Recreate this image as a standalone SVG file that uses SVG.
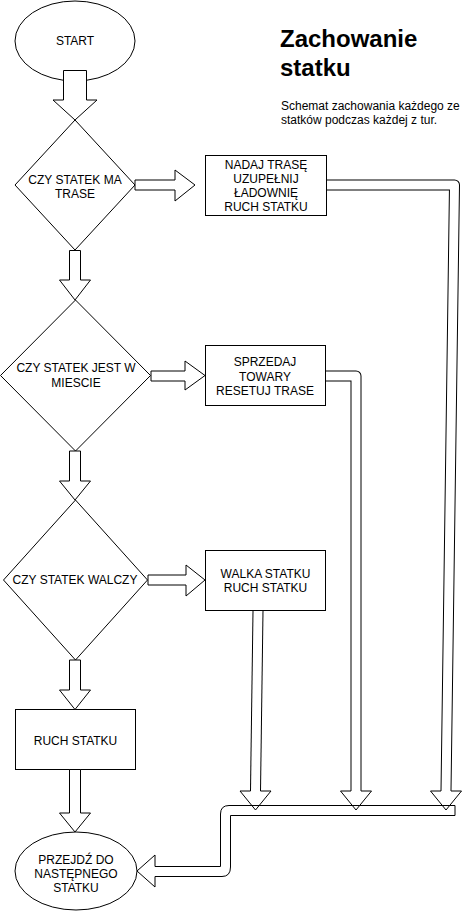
<svg xmlns="http://www.w3.org/2000/svg" width="466" height="911" viewBox="0 0 466 911">
<style>
.n{fill:#fff;stroke:#000;stroke-width:1}
.t{font-family:"Liberation Sans",Arial,sans-serif;font-size:12px;fill:#000;text-anchor:middle}
.fa{fill:#fff;stroke:#000;stroke-width:1;stroke-linejoin:miter}
.so{fill:none;stroke:#000;stroke-width:11;stroke-linejoin:round;stroke-linecap:butt}
.si{fill:none;stroke:#fff;stroke-width:9;stroke-linejoin:round;stroke-linecap:butt}
.hf{fill:#fff;stroke:none}
.hl{fill:none;stroke:#000;stroke-width:1}
.ln{fill:none;stroke:#000;stroke-width:1}
</style>
<rect width="466" height="911" fill="#fff"/>
<g id="title">
<text x="280" y="47" style="font-family:'Liberation Sans',Arial,sans-serif;font-size:24px;font-weight:bold;fill:#000">Zachowanie</text>
<text x="280" y="76" style="font-family:'Liberation Sans',Arial,sans-serif;font-size:24px;font-weight:bold;fill:#000">statku</text>
<text x="281" y="110" style="font-family:'Liberation Sans',Arial,sans-serif;font-size:12px;fill:#000">Schemat zachowania każdego ze</text>
<text x="281" y="124" style="font-family:'Liberation Sans',Arial,sans-serif;font-size:12px;fill:#000">statków podczas każdej z tur.</text>
</g>
<g id="start">
<ellipse class="n" cx="75" cy="41" rx="60" ry="40"/>
<text class="t" x="75" y="45">START</text>
</g>
<g id="d1">
<polygon class="n" points="75,120 135,185 75,250 15,185"/>
<text class="t" x="75" y="183.5">CZY STATEK MA</text>
<text class="t" x="75" y="197.5">TRASE</text>
</g>
<g id="box1">
<rect class="n" x="205.5" y="155.5" width="121" height="60"/>
<text class="t" x="266" y="169">NADAJ TRASĘ</text>
<text class="t" x="266" y="183">UZUPEŁNIJ</text>
<text class="t" x="266" y="197">ŁADOWNIĘ</text>
<text class="t" x="266" y="211">RUCH STATKU</text>
</g>
<g id="d2">
<polygon class="n" points="75.5,300 150.5,375.5 75.5,451 0.5,375.5"/>
<text class="t" x="76" y="372">CZY STATEK JEST W</text>
<text class="t" x="76" y="386.5">MIESCIE</text>
</g>
<g id="box2">
<rect class="n" x="205.5" y="345.5" width="120" height="60"/>
<text class="t" x="265" y="366">SPRZEDAJ</text>
<text class="t" x="265" y="380.5">TOWARY</text>
<text class="t" x="265" y="395">RESETUJ TRASE</text>
</g>
<g id="d3">
<polygon class="n" points="75.5,500 147.5,580 75.5,660 3.5,580"/>
<text class="t" x="75" y="584">CZY STATEK WALCZY</text>
</g>
<g id="box3">
<rect class="n" x="205.5" y="550.5" width="120" height="60"/>
<text class="t" x="265.5" y="577.5">WALKA STATKU</text>
<text class="t" x="265.5" y="591.5">RUCH STATKU</text>
</g>
<g id="ruch">
<rect class="n" x="15.5" y="709.5" width="120" height="60"/>
<text class="t" x="75.5" y="745">RUCH STATKU</text>
</g>
<g id="end">
<ellipse class="n" cx="76" cy="871" rx="61" ry="39"/>
<text class="t" x="76" y="864">PRZEJDŹ DO</text>
<text class="t" x="76" y="878">NASTĘPNEGO</text>
<text class="t" x="76" y="892">STATKU</text>
</g>
<g id="connectors">
<polygon class="fa" points="63.5,70.5 86.5,70.5 86.5,100 97,100 75,120 53,100 63.5,100"/>
<polygon class="fa" points="69.5,250.5 80.5,250.5 80.5,280 90.5,280 75,300 59.5,280 69.5,280"/>
<polygon class="fa" points="69.5,451 80.5,451 80.5,481 90.5,481 75,500 59.5,481 69.5,481"/>
<polygon class="fa" points="69.5,660 80.5,660 80.5,690 90.5,690 75,709.5 59.5,690 69.5,690"/>
<polygon class="fa" points="69.5,769.5 80.5,769.5 80.5,813 90.5,813 75,832 59.5,813 69.5,813"/>
<polygon class="fa" points="135,180 175,180 175,170 195,185 175,201 175,190 135,190"/>
<polygon class="fa" points="151,371 185,371 185,361 205,375.5 185,390 185,381 151,381"/>
<polygon class="fa" points="148,575 186,575 186,565 205,580 186,596 186,585 148,585"/>
<path class="so" d="M327,185 H454.5 L446,791"/>
<path class="si" d="M327,185 H454.5 L446,791"/>
<polygon class="hf" points="430.5,791 461.5,791 446,810"/>
<polyline class="hl" points="441,791 430.5,791 446,810 461.5,791 451,791"/>
<path class="so" d="M326,376 H356 V791"/>
<path class="si" d="M326,376 H356 V791"/>
<polygon class="hf" points="340.5,791 371.5,791 356,810"/>
<polyline class="hl" points="351,791 340.5,791 356,810 371.5,791 361,791"/>
<path class="so" d="M258,611 L255.5,791"/>
<path class="si" d="M258,611 L255.5,791"/>
<polygon class="hf" points="240,791 271,791 255.5,810"/>
<polyline class="hl" points="250.5,791 240,791 255.5,810 271,791 260.5,791"/>
<path class="ln" d="M455,805.5 H229 Q220.5,805.5 220.5,814 V866.5 H155"/>
<path class="ln" d="M455,815.5 H230.5 V867 Q230.5,876.5 222,876.5 H155"/>
<path class="ln" d="M455,805.5 V815.5"/>
<polygon class="hf" points="155,855 155,887 137,871"/>
<polyline class="hl" points="155,866.5 155,855 137,871 155,887 155,876.5"/>
</g>
</svg>
